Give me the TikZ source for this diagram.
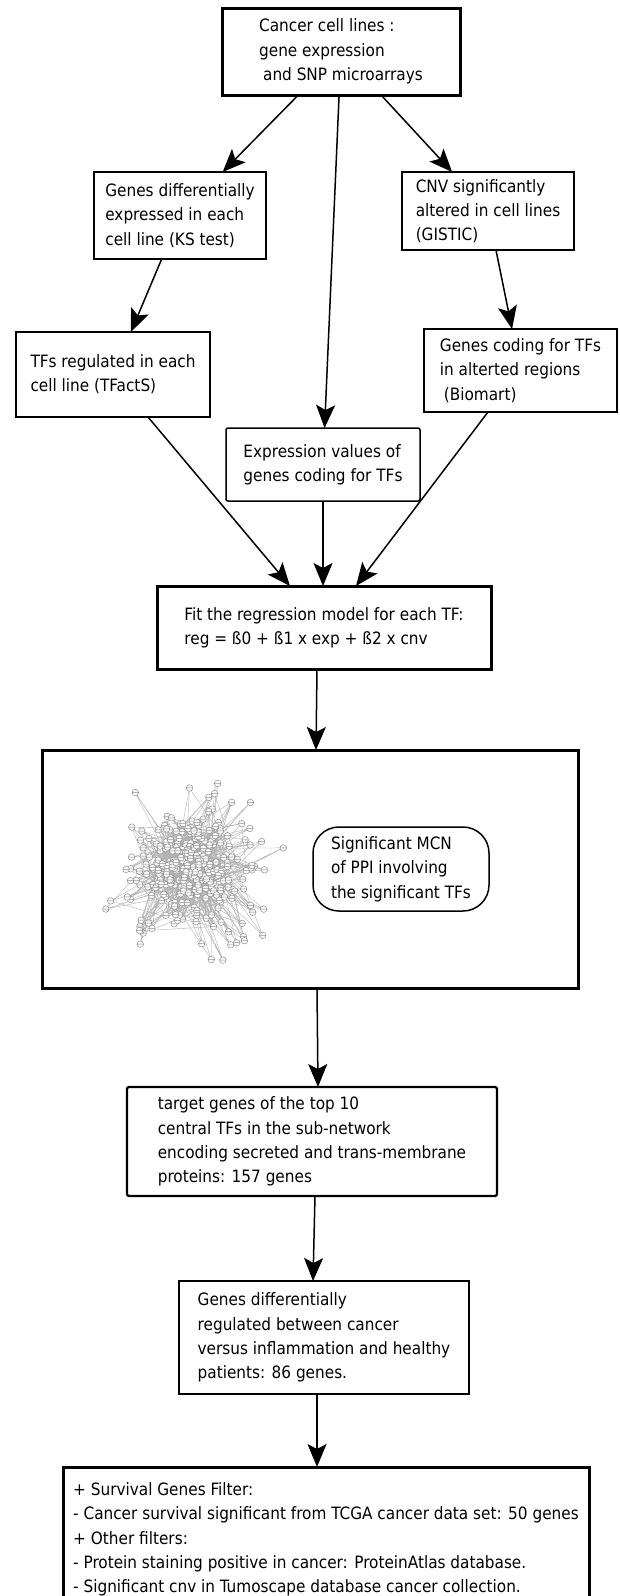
\documentclass[tikz,border=0pt]{standalone}
\usepackage{fontspec}
\setmainfont{DejaVu Sans Condensed}
\usetikzlibrary{arrows.meta,positioning,calc}

\begin{document}
\begin{tikzpicture}[
    x=1pt, y=-1pt,
    >={Stealth[length=23pt,width=19pt,inset=5pt]},
    line width=1.5pt,
    font={\fontsize{17}{24.3}\selectfont},
    box/.style={draw, align=left, inner sep=0pt, outer sep=0pt},
    thickbox/.style={box, line width=3pt},
    roundbox/.style={box, rounded corners=2pt},
    netedge/.style={draw=gray!60, line width=0.4pt},
    netnode/.style={draw=gray!85, fill=gray!5, line width=0.5pt}
    ]

    \useasboundingbox (0,0) rectangle (620,1596);

    \node [thickbox, minimum width=238pt, minimum height=87pt] (src) at (341,51.5)
      {Cancer cell lines :\\gene expression\\\hspace*{4pt}and SNP microarrays};

    \node [box, minimum width=172pt, minimum height=87pt] (gdiff) at (180,215.5)
      {Genes differentially\\expressed in each\\cell line (KS test)};
    \node [box, minimum width=172pt, minimum height=78pt] (cnv) at (488,211)
      {CNV significantly\\altered in cell lines\\(GISTIC)};
    \node [box, minimum width=194pt, minimum height=85pt] (tfreg) at (113,374.5)
      {TFs regulated in each\\cell line (TFactS)};
    \node [box, minimum width=193pt, minimum height=83pt] (gcode) at (520.5,370.5)
      {Genes coding for TFs\\in alterted regions\\\hspace*{4pt}(Biomart)};
    \node [roundbox, minimum width=194pt, minimum height=73pt] (expr) at (323,464.5)
      {Expression values of\\genes coding for TFs};

    \node [thickbox, minimum width=334pt, minimum height=83pt] (fit) at (324,627.5)
      {Fit the regression model for each TF:\\reg = ß0 + ß1 x exp + ß2 x cnv};
    \node [thickbox, minimum width=536pt, minimum height=238pt, below=81pt of fit, xshift=-14pt] (net) {};
    \node [box, rounded corners=26pt, minimum width=176pt, minimum height=84pt] (mcn) at ([xshift=91pt]net.center)
      {Significant MCN\\of PPI involving\\the significant TFs};
    \node [roundbox, line width=2.2pt, minimum width=370pt, minimum height=109pt, below=99pt of net, xshift=2pt] (target)
      {target genes of the top 10\\central TFs in the sub-network\\encoding secreted and trans-membrane\\proteins: 157 genes};
    \node [box, line width=2pt, minimum width=290pt, minimum height=113pt, below=85pt of target, xshift=12pt] (greg)
      {Genes differentially\\regulated between cancer\\versus inflammation and healthy\\patients: 86 genes.};
    \node [thickbox, minimum width=526pt, minimum height=145pt, below=73pt of greg, xshift=2pt] (bot)
      {+ Survival Genes Filter:\\- Cancer survival significant from TCGA cancer data set: 50 genes\\+ Other filters:\\- Protein staining positive in cancer: ProteinAtlas database.\\- Significant cnv in Tumoscape database cancer collection.};

    % protein interaction network
    \coordinate (netc) at ([xshift=-120pt]net.center);
    \pgfmathsetseed{4}
    \foreach \i in {1,...,320}{
      \pgfmathsetmacro{\sd}{\i<100 ? 20 : 33}
      \pgfmathsetmacro{\px}{\sd*(rand+rand+rand)}
      \pgfmathsetmacro{\py}{1.08*\sd*(rand+rand+rand)}
      \coordinate (v\i) at ([shift={(\px,\py)}]netc);
    }
    \foreach \i in {2,...,320}{
      \pgfmathtruncatemacro{\j}{random(1,min(\i-1,100))}
      \pgfmathtruncatemacro{\l}{random(1,min(\i-1,100))}
      \pgfmathtruncatemacro{\k}{random(1,\i-1)}
      \draw[netedge] (v\i) -- (v\j) (v\i) -- (v\k) (v\i) -- (v\l);
    }
    \foreach \i in {1,...,320}
      \draw[netnode] (v\i) circle (3.3) ([xshift=-3.3pt]v\i) -- ([xshift=3.3pt]v\i);

    \draw[->] (src) -- (gdiff);
    \draw[->] (src) -- (cnv);
    \draw[->] (src) -- (expr);
    \draw[->] (gdiff) -- (tfreg);
    \draw[->] (cnv) -- (gcode);

    \draw[->] ([xshift=35pt]tfreg.south) -- ([xshift=-34pt]fit.north);
    \draw[->] (expr) -- (expr |- fit.north);
    \draw[->] ([xshift=-32.5pt]gcode.south) -- ([xshift=32pt]fit.north);

    \draw[->] ([xshift=-7pt]fit.south) -- ([xshift=6pt]net.north);
    \draw[->] ([xshift=7pt]net.south) -- ([xshift=6pt]target.north);
    \draw[->] ([xshift=3pt]target.south) -- ([xshift=-11pt]greg.north);
    \draw[->] ([xshift=-7pt]greg.south) -- ([xshift=-9pt]bot.north);

\end{tikzpicture}
\end{document}
